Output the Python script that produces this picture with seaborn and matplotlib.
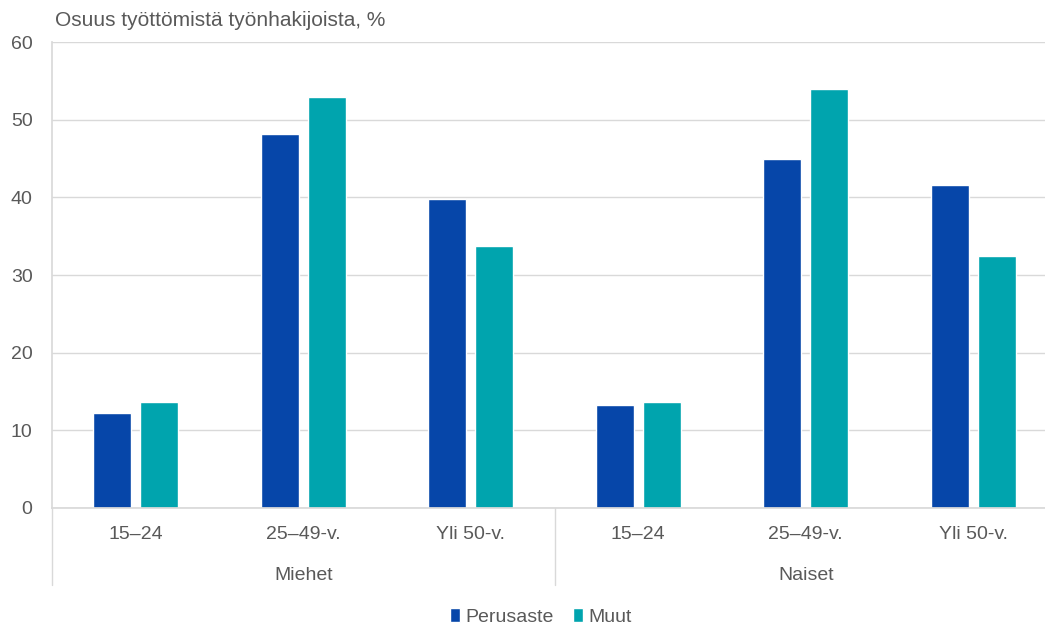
import matplotlib
matplotlib.use("Agg")
import matplotlib.pyplot as plt
import matplotlib.transforms as mtransforms
import pandas as pd
import seaborn as sns

# data
groups = ["Miehet", "Naiset"]
ages = ["15–24", "25–49-v.", "Yli 50-v."]
series = ["Perusaste", "Muut"]
perusaste = [12.2, 48.1, 39.8, 13.3, 44.9, 41.6]
muut = [13.6, 52.9, 33.7, 13.6, 53.9, 32.4]

colors = {"Perusaste": "#0646A9", "Muut": "#00A4AE"}
text_col = "#595959"
grid_col = "#d9d9d9"
fs = 14

keys = [f"{g} {a}" for g in groups for a in ages]
rows = []
for i, k in enumerate(keys):
    rows.append({"key": k, "sarja": "Perusaste", "arvo": perusaste[i]})
    rows.append({"key": k, "sarja": "Muut", "arvo": muut[i]})
df = pd.DataFrame(rows)

sns.set_theme(style="white")
plt.rcParams["font.family"] = ["Liberation Sans", "DejaVu Sans"]

fig = plt.figure(figsize=(10.45, 6.28), dpi=100)
ax = fig.add_axes([52 / 1045, 120 / 628, 1005 / 1045, 466 / 628])

sns.barplot(data=df, x="key", y="arvo", hue="sarja", order=keys,
            hue_order=series, palette=colors, width=0.56, gap=0.19,
            saturation=1, ax=ax, legend=True)

ax.set_ylim(0, 60)
ax.set_xlim(-0.5, 5.5)
ax.set_yticks(range(0, 61, 10))
ax.yaxis.grid(True, color=grid_col, linewidth=1)
ax.set_axisbelow(True)
for s in ["top", "right"]:
    ax.spines[s].set_visible(False)
ax.spines["left"].set_color(grid_col)
ax.spines["bottom"].set_color(grid_col)
ax.tick_params(axis="y", length=0, pad=14, labelsize=fs, labelcolor=text_col)
ax.tick_params(axis="x", length=0, pad=13, labelsize=fs, labelcolor=text_col)
ax.set_xticks(range(len(keys)))
ax.set_xticklabels(ages * len(groups))
ax.set_xlabel("")
ax.set_ylabel("")

# group separators and group labels under the axis
trans = mtransforms.blended_transform_factory(ax.transData, ax.transAxes)
low = -(585 - 508) / 466
for xs in [-0.5, 2.5, 5.5]:
    ax.plot([xs, xs], [0, low], transform=trans, color=grid_col,
            linewidth=1, clip_on=False)
for gi, g in enumerate(groups):
    ax.text(gi * 3 + 1, -(575 - 508) / 466, g, transform=trans,
            ha="center", va="center", fontsize=fs, color=text_col)

fig.text(55 / 1045, 1 - 20 / 628, "Osuus työttömistä työnhakijoista, %",
         ha="left", va="center", fontsize=15, color=text_col)

leg = ax.legend(loc="center", bbox_to_anchor=(541 / 1045, 1 - 617 / 628),
                bbox_transform=fig.transFigure, ncol=2, frameon=False,
                handlelength=0.5, handleheight=0.7, handletextpad=0.3,
                columnspacing=1.0, fontsize=fs)
for t in leg.get_texts():
    t.set_color(text_col)

fig.savefig("out.png", dpi=100)
